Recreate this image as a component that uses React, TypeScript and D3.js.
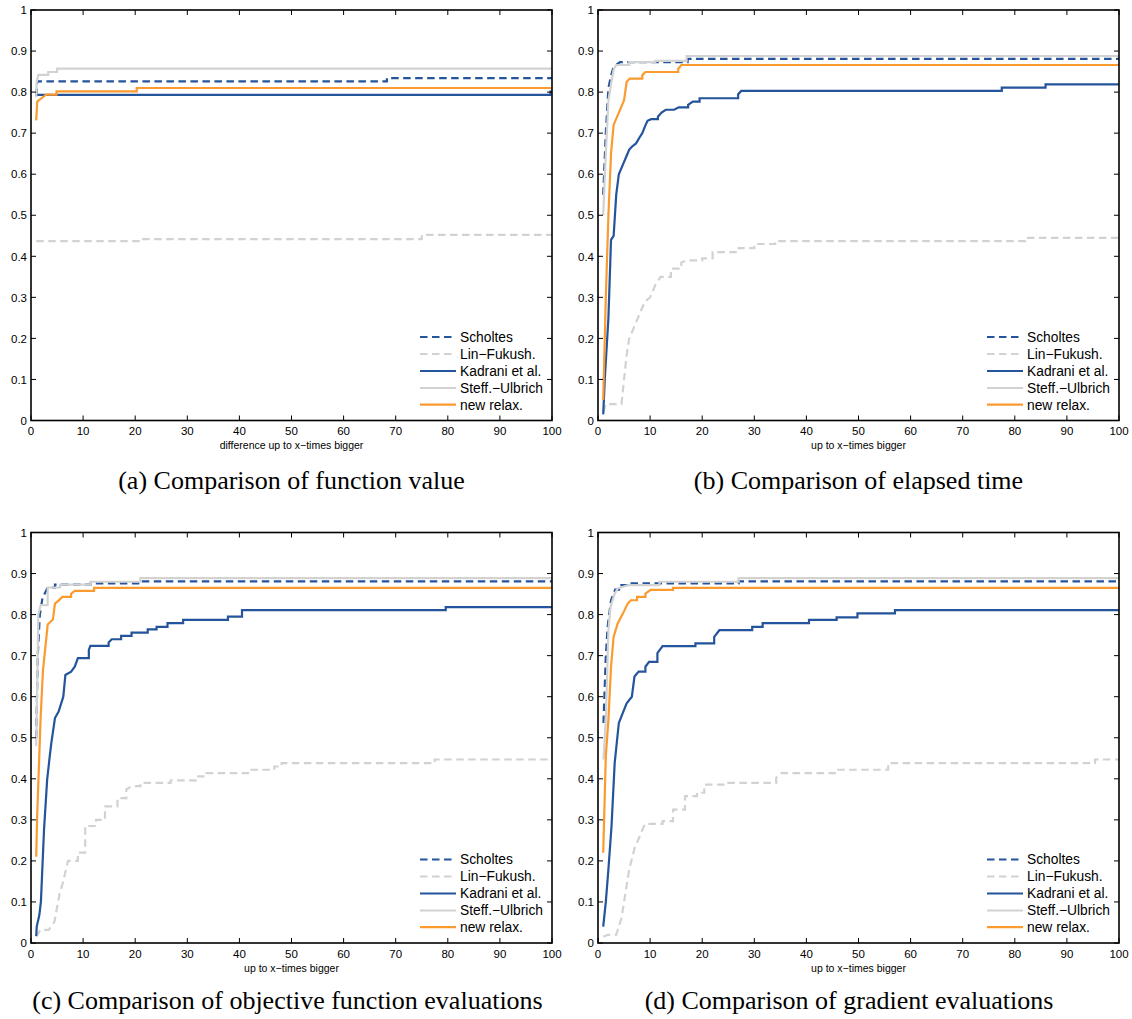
import React from "react";
import * as d3 from "d3";

type Pt = [number, number];

// ---------- data (x = factor, y = fraction of problems) ----------
const seriesNames = ["Scholtes", "Lin\u2212Fukush.", "Kadrani et al.", "Steff.\u2212Ulbrich", "new relax."];
const xTicks = [0, 10, 20, 30, 40, 50, 60, 70, 80, 90, 100];
const yTicks = [0, 0.1, 0.2, 0.3, 0.4, 0.5, 0.6, 0.7, 0.8, 0.9, 1];
const yTickLabels = ["0", "0.1", "0.2", "0.3", "0.4", "0.5", "0.6", "0.7", "0.8", "0.9", "1"];
const captions = [
  "(a) Comparison of function value",
  "(b) Comparison of elapsed time",
  "(c) Comparison of objective function evaluations",
  "(d) Comparison of gradient evaluations",
];
const xLabels = [
  "difference up to x\u2212times bigger",
  "up to x\u2212times bigger",
  "up to x\u2212times bigger",
  "up to x\u2212times bigger",
];

// panel (a)
const aScholtes: Pt[] = [[1, 0.79], [1.2, 0.826], [68.3, 0.834], [100, 0.834]];
const aLinFukush: Pt[] = [[1, 0.437], [21, 0.442], [75, 0.452], [100, 0.452]];
const aKadrani: Pt[] = [[1, 0.793], [99.7, 0.801], [100, 0.801]];
const aSteff: Pt[] = [[1, 0.79], [1.1, 0.825], [1.4, 0.842], [3.3, 0.849], [5.0, 0.857], [100, 0.857]];
const aNewRelax: Pt[] = [[1, 0.731], [1.2, 0.777], [2.0, 0.785], [2.9, 0.794], [4.9, 0.802], [20.3, 0.81], [100, 0.81]];

// panel (b)
const bScholtes: Pt[] = [[1, 0.55], [1.5, 0.7], [2, 0.81], [2.5, 0.84], [3, 0.862], [3.5, 0.866], [4.2, 0.873], [17.2, 0.881], [100, 0.881]];
const bLinFukush: Pt[] = [[1, 0.02], [1.5, 0.04], [4.5, 0.04], [5, 0.1], [5.5, 0.16], [6, 0.2], [7, 0.23], [8, 0.26], [9, 0.29], [10, 0.3], [11, 0.33], [12, 0.35], [14, 0.37], [16, 0.385], [17, 0.39], [20, 0.395], [22, 0.41], [27, 0.42], [30, 0.43], [34, 0.437], [82, 0.445], [100, 0.445]];
const bKadrani: Pt[] = [[1, 0.015], [1.3, 0.1], [2, 0.25], [2.5, 0.44], [3, 0.45], [3.5, 0.55], [4, 0.6], [5, 0.63], [5.5, 0.645], [6, 0.66], [6.5, 0.667], [7.3, 0.675], [8, 0.69], [8.5, 0.7], [9, 0.716], [9.5, 0.73], [10.2, 0.734], [11.5, 0.74], [12.2, 0.75], [13, 0.757], [14.6, 0.757], [15.5, 0.763], [17.3, 0.769], [18.2, 0.777], [19.5, 0.785], [26.9, 0.795], [27.5, 0.803], [77.5, 0.811], [85.9, 0.819], [100, 0.819]];
const bSteff: Pt[] = [[1, 0.5], [1.5, 0.65], [2, 0.78], [2.5, 0.82], [3, 0.855], [3.5, 0.866], [6, 0.873], [11, 0.876], [17, 0.888], [100, 0.888]];
const bNewRelax: Pt[] = [[1, 0.05], [1.5, 0.3], [2, 0.5], [2.5, 0.65], [3, 0.72], [4, 0.75], [5, 0.78], [5.5, 0.825], [6.1, 0.833], [8.5, 0.841], [9.1, 0.849], [15.4, 0.857], [16, 0.866], [100, 0.866]];

// panel (c)
const cScholtes: Pt[] = [[1, 0.5], [1.3, 0.7], [1.7, 0.8], [2.2, 0.84], [3.2, 0.866], [4.6, 0.873], [11.4, 0.876], [21, 0.881], [100, 0.881]];
const cLinFukush: Pt[] = [[1, 0.015], [1.8, 0.032], [3.4, 0.032], [4.5, 0.052], [5.5, 0.121], [6.1, 0.146], [7.1, 0.2], [9, 0.22], [10.4, 0.285], [12.5, 0.3], [14.2, 0.333], [16.6, 0.353], [18.3, 0.374], [19.3, 0.382], [21, 0.39], [26.8, 0.396], [31.6, 0.406], [33.7, 0.414], [41.9, 0.422], [46.7, 0.43], [48.1, 0.438], [77.5, 0.447], [100, 0.447]];
const cKadrani: Pt[] = [[1, 0.017], [1.1, 0.04], [1.6, 0.068], [1.9, 0.1], [2.5, 0.276], [3.1, 0.398], [3.6, 0.455], [3.9, 0.487], [4.6, 0.548], [5.3, 0.564], [6.2, 0.6], [6.6, 0.653], [7.7, 0.661], [8.4, 0.673], [9, 0.694], [11.1, 0.714], [11.4, 0.724], [14.9, 0.732], [15.5, 0.74], [17.3, 0.748], [19.3, 0.756], [22.4, 0.764], [24.1, 0.77], [26.2, 0.779], [29.2, 0.787], [37.8, 0.795], [40.5, 0.811], [79.6, 0.818], [100, 0.818]];
const cSteff: Pt[] = [[1, 0.48], [1.4, 0.8], [1.85, 0.823], [3.2, 0.866], [5.6, 0.873], [11.4, 0.88], [21, 0.889], [100, 0.889]];
const cNewRelax: Pt[] = [[1, 0.21], [1.16, 0.3], [1.85, 0.55], [2.3, 0.665], [3.1, 0.762], [3.2, 0.776], [4.2, 0.788], [4.6, 0.827], [5.3, 0.834], [6, 0.843], [7.7, 0.851], [8.4, 0.858], [12.1, 0.865], [100, 0.865]];

// panel (d)
const dScholtes: Pt[] = [[1.05, 0.536], [1.5, 0.698], [1.85, 0.77], [2.5, 0.835], [3.3, 0.861], [4.5, 0.872], [5.8, 0.876], [27, 0.881], [100, 0.881]];
const dLinFukush: Pt[] = [[1, 0.015], [1.9, 0.02], [3.5, 0.02], [4.5, 0.06], [5, 0.1], [6, 0.18], [7, 0.23], [8, 0.26], [9, 0.29], [12.4, 0.297], [14.4, 0.325], [16.7, 0.358], [19, 0.366], [20.4, 0.386], [24.3, 0.39], [34.2, 0.402], [35.2, 0.414], [45.5, 0.422], [55.7, 0.438], [95.4, 0.447], [100, 0.447]];
const dKadrani: Pt[] = [[1, 0.04], [1.5, 0.1], [2, 0.18], [2.6, 0.285], [3.2, 0.438], [4, 0.536], [4.5, 0.552], [5.5, 0.584], [6.5, 0.6], [7, 0.649], [7.8, 0.661], [9.1, 0.673], [9.8, 0.685], [11.4, 0.706], [12.4, 0.723], [18.7, 0.73], [22.3, 0.746], [23.3, 0.762], [29.6, 0.77], [31.6, 0.779], [40.5, 0.787], [45.8, 0.793], [49.8, 0.803], [57, 0.811], [100, 0.811]];
const dSteff: Pt[] = [[1.05, 0.447], [1.5, 0.544], [2, 0.762], [2.4, 0.819], [3.2, 0.851], [3.8, 0.864], [4.8, 0.868], [5.8, 0.872], [11.8, 0.88], [27, 0.889], [100, 0.889]];
const dNewRelax: Pt[] = [[1, 0.22], [1.5, 0.455], [2, 0.544], [2.5, 0.673], [3, 0.746], [3.8, 0.779], [4.8, 0.803], [5.7, 0.827], [6.3, 0.835], [7.5, 0.843], [9.1, 0.851], [10.1, 0.86], [14.4, 0.865], [100, 0.865]];

const panelData: Pt[][][] = [
  [aScholtes, aLinFukush, aKadrani, aSteff, aNewRelax],
  [bScholtes, bLinFukush, bKadrani, bSteff, bNewRelax],
  [cScholtes, cLinFukush, cKadrani, cSteff, cNewRelax],
  [dScholtes, dLinFukush, dKadrani, dSteff, dNewRelax],
];

// ---------- styles ----------
const BLUE = "#24549c";
const GRAY = "#d2d2d2";
const ORANGE = "#fb9a2f";
const seriesStyle = [
  { color: BLUE, dash: "7.5,4.5" },
  { color: GRAY, dash: "7.5,4.5" },
  { color: BLUE, dash: "" },
  { color: GRAY, dash: "" },
  { color: ORANGE, dash: "" },
];

const layout = [
  { left: 31, right: 552, top: 10, bottom: 420.5, capX: 291.5, capY: 489, xlabY: 449 },
  { left: 598, right: 1119, top: 10, bottom: 420.5, capX: 858.5, capY: 489, xlabY: 449 },
  { left: 31, right: 552, top: 532.5, bottom: 943, capX: 287.5, capY: 1009, xlabY: 971.5 },
  { left: 598, right: 1119, top: 532.5, bottom: 943, capX: 849, capY: 1009, xlabY: 971.5 },
];

const SANS = "'Liberation Sans', Arial, Helvetica, sans-serif";
const SERIF = "'Liberation Serif', 'Times New Roman', serif";

function expand(pts: Pt[]): Pt[] {
  const out: Pt[] = [];
  for (let i = 0; i < pts.length; i++) {
    out.push(pts[i]);
    if (i < pts.length - 1 && pts[i + 1][0] - pts[i][0] > 1.2) {
      out.push([pts[i + 1][0], pts[i][1]]);
    }
  }
  return out;
}

function Panel({ idx }: { idx: number }) {
  const L = layout[idx];
  const x = d3.scaleLinear().domain([0, 100]).range([L.left, L.right]);
  const y = d3.scaleLinear().domain([0, 1]).range([L.bottom, L.top]);
  const line = d3
    .line<Pt>()
    .x((d) => x(d[0]))
    .y((d) => y(d[1]));
  const tl = 5;
  const legRows = [83.5, 66.5, 49.5, 32.5, 15.8];
  return (
    <g>
      {/* series */}
      {panelData[idx].map((s, i) => (
        <path
          key={i}
          d={line(expand(s)) || ""}
          fill="none"
          stroke={seriesStyle[i].color}
          strokeWidth={2.2}
          strokeDasharray={seriesStyle[i].dash || undefined}
        />
      ))}
      {/* ticks */}
      {xTicks.map((t) => (
        <g key={"x" + t}>
          <line x1={x(t)} x2={x(t)} y1={L.bottom} y2={L.bottom - tl} stroke="#000" strokeWidth={1} />
          <line x1={x(t)} x2={x(t)} y1={L.top} y2={L.top + tl} stroke="#000" strokeWidth={1} />
          <text x={x(t)} y={L.bottom + 14.5} fontSize={11.5} fontFamily={SANS} textAnchor="middle" fill="#000">
            {t}
          </text>
        </g>
      ))}
      {yTicks.map((t, i) => (
        <g key={"y" + t}>
          <line x1={L.left} x2={L.left + tl} y1={y(t)} y2={y(t)} stroke="#000" strokeWidth={1} />
          <line x1={L.right} x2={L.right - tl} y1={y(t)} y2={y(t)} stroke="#000" strokeWidth={1} />
          <text x={L.left - 4} y={y(t) + 4.2} fontSize={11.5} fontFamily={SANS} textAnchor="end" fill="#000">
            {yTickLabels[i]}
          </text>
        </g>
      ))}
      {/* box */}
      <rect
        x={L.left}
        y={L.top}
        width={L.right - L.left}
        height={L.bottom - L.top}
        fill="none"
        stroke="#000"
        strokeWidth={1.6}
      />
      {/* legend */}
      {seriesNames.map((n, i) => (
        <g key={n}>
          <line
            x1={L.right - 132}
            x2={L.right - 96}
            y1={L.bottom - legRows[i]}
            y2={L.bottom - legRows[i]}
            stroke={seriesStyle[i].color}
            strokeWidth={2.2}
            strokeDasharray={seriesStyle[i].dash || undefined}
          />
          <text x={L.right - 92} y={L.bottom - legRows[i] + 4.8} fontSize={13.8} fontFamily={SANS} fill="#000">
            {n}
          </text>
        </g>
      ))}
      {/* x label */}
      <text x={(L.left + L.right) / 2} y={L.xlabY} fontSize={10.5} fontFamily={SANS} textAnchor="middle" fill="#000">
        {xLabels[idx]}
      </text>
      {/* caption */}
      <text x={L.capX} y={L.capY} fontSize={26} fontFamily={SERIF} textAnchor="middle" fill="#000">
        {captions[idx]}
      </text>
    </g>
  );
}

export default function App() {
  return (
    <svg
      width={1132}
      height={1019}
      viewBox="0 0 1132 1019"
      style={{ position: "absolute", left: 0, top: 0, background: "#fff" }}
    >
      <rect width={1132} height={1019} fill="#fff" />
      {[0, 1, 2, 3].map((i) => (
        <Panel key={i} idx={i} />
      ))}
    </svg>
  );
}
